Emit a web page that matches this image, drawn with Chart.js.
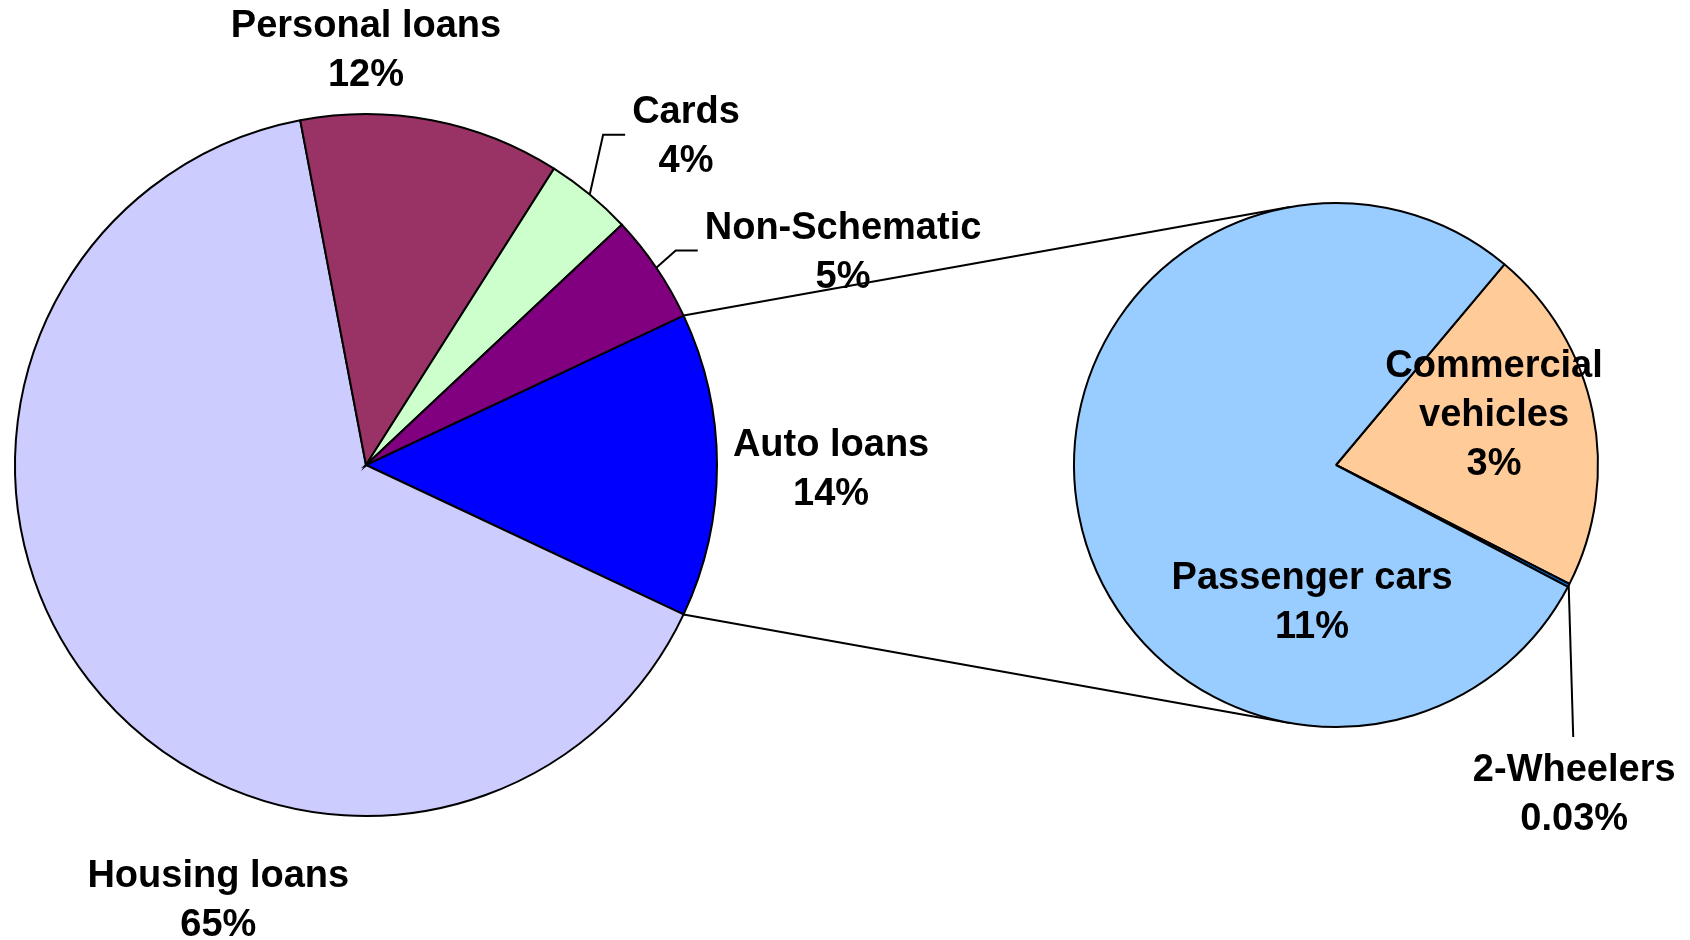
<!DOCTYPE html>
<html>
<head>
<meta charset="utf-8">
<title>Retail credit</title>
<script src="https://cdn.jsdelivr.net/npm/chart.js@4.4.1/dist/chart.umd.min.js"></script>
<style>
    html, body { margin: 0; padding: 0; background: #ffffff; }
    #lienzo { position: relative; width: 1690px; height: 940px; }
    #lienzo canvas { position: absolute; left: 0; top: 0; }
</style>
</head>
<body>
<div id="lienzo">
    <canvas id="pieCredito" width="1690" height="940"></canvas>
    <canvas id="pieAuto" width="1690" height="940"></canvas>
</div>
<script>
// Retail credit by segment (% of total)
const categorias = ["Auto loans", "Housing loans", "Personal loans", "Cards", "Non-Schematic"];
const valores = [14, 65, 12, 4, 5];
const colores = ["#0000FF", "#CCCCFF", "#993366", "#CCFFCC", "#800080"];

// Auto loans split (% of total)
const categoriasAuto = [["Commercial", "vehicles"], "2-Wheelers", "Passenger cars"];
const valoresAuto = [3, 0.03, 11];
const coloresAuto = ["#FFCC99", "#0066CC", "#99CCFF"];

const FUENTE = 'bold 38px "Liberation Sans", Arial, sans-serif';
const INTERLINEA = 49;

// where each label sits: polar angle (deg) and distance in radii from the pie centre
const posicionesCredito = [
    { angulo: 0.4, dist: 1.325 },
    { angulo: 108.8, dist: 1.306 },
    { angulo: -90, dist: 1.185 },
    { angulo: -45.9, dist: 1.31, guia: "izquierda" },
    { angulo: -24.2, dist: 1.49, guia: "izquierda" }
];
const posicionesAuto = [
    { angulo: -18.2, dist: 0.635 },
    { angulo: 54, dist: 1.547, guia: "arriba" },
    { angulo: 100, dist: 0.527 }
];

const etiquetas = {
    id: "etiquetas",
    afterDatasetsDraw(chart, args, opts) {
        const ctx = chart.ctx;
        const meta = chart.getDatasetMeta(0);
        const datos = chart.data.datasets[0].data;

        ctx.save();
        ctx.font = FUENTE;
        ctx.fillStyle = "#000000";
        ctx.strokeStyle = "#000000";
        ctx.lineWidth = 2;
        ctx.textAlign = "center";
        ctx.textBaseline = "middle";

        meta.data.forEach((arco, i) => {
            const p = opts.posiciones[i];
            const lineas = [].concat(chart.data.labels[i], datos[i] + "%");
            const a = p.angulo * Math.PI / 180;
            const cx = arco.x + Math.cos(a) * arco.outerRadius * p.dist;
            const cy = arco.y + Math.sin(a) * arco.outerRadius * p.dist;
            const alto = lineas.length * INTERLINEA;
            const ancho = Math.max(...lineas.map(t => ctx.measureText(t).width));

            lineas.forEach((t, k) => {
                ctx.fillText(t, cx, cy + 2 - alto / 2 + INTERLINEA * (k + 0.5));
            });

            if (p.guia) {
                const medio = (arco.startAngle + arco.endAngle) / 2;
                const x0 = arco.x + Math.cos(medio) * arco.outerRadius;
                const y0 = arco.y + Math.sin(medio) * arco.outerRadius;
                ctx.beginPath();
                ctx.moveTo(x0, y0);
                if (p.guia === "izquierda") {
                    const xf = cx - ancho / 2 - 7;
                    ctx.lineTo(xf - 22, cy);
                    ctx.lineTo(xf, cy);
                } else {
                    ctx.lineTo(cx - 1, cy - alto / 2 - 7);
                }
                ctx.stroke();
            }
        });
        ctx.restore();
    }
};

let graficoCredito = null;

// lines from the edges of the Auto loans slice, tangent to the second pie
const conectores = {
    id: "conectores",
    beforeDatasetsDraw(chart) {
        const origen = graficoCredito.getDatasetMeta(0).data[0];
        const destino = chart.getDatasetMeta(0).data[0];
        const R = destino.outerRadius;
        const ctx = chart.ctx;

        ctx.save();
        ctx.strokeStyle = "#000000";
        ctx.lineWidth = 2;
        [origen.startAngle, origen.endAngle].forEach((ang, k) => {
            const px = origen.x + Math.cos(ang) * origen.outerRadius;
            const py = origen.y + Math.sin(ang) * origen.outerRadius;
            const dx = px - destino.x;
            const dy = py - destino.y;
            const d = Math.hypot(dx, dy);
            const theta = Math.atan2(dy, dx);
            const beta = Math.acos(R / d);
            const t = k === 0 ? theta + beta : theta - beta;
            ctx.beginPath();
            ctx.moveTo(px, py);
            ctx.lineTo(destino.x + Math.cos(t) * R, destino.y + Math.sin(t) * R);
            ctx.stroke();
        });
        ctx.restore();
    }
};

function opcionesPie(rotacion, padding, posiciones) {
    return {
        responsive: false,
        animation: false,
        events: [],
        rotation: rotacion,
        layout: { padding: padding },
        plugins: {
            legend: { display: false },
            tooltip: { enabled: false },
            etiquetas: { posiciones: posiciones }
        }
    };
}

const total = valores.reduce((s, v) => s + v, 0);
// Auto loans slice centred on the horizontal, facing the second pie
const rotacionCredito = 90 - (valores[0] / total) * 180;

graficoCredito = new Chart(document.getElementById("pieCredito"), {
    type: "pie",
    data: {
        labels: categorias,
        datasets: [{
            data: valores,
            backgroundColor: colores,
            borderColor: "#000000",
            borderWidth: 2,
            borderJoinStyle: "miter",
            hoverOffset: 0
        }]
    },
    options: opcionesPie(rotacionCredito, { left: 14, right: 972, top: 113, bottom: 123 }, posicionesCredito),
    plugins: [etiquetas]
});

new Chart(document.getElementById("pieAuto"), {
    type: "pie",
    data: {
        labels: categoriasAuto,
        datasets: [{
            data: valoresAuto,
            backgroundColor: coloresAuto,
            borderColor: "#000000",
            borderWidth: 2,
            hoverOffset: 0
        }]
    },
    options: opcionesPie(40, { left: 1073, right: 91, top: 202, bottom: 212 }, posicionesAuto),
    plugins: [conectores, etiquetas]
});
</script>
</body>
</html>
